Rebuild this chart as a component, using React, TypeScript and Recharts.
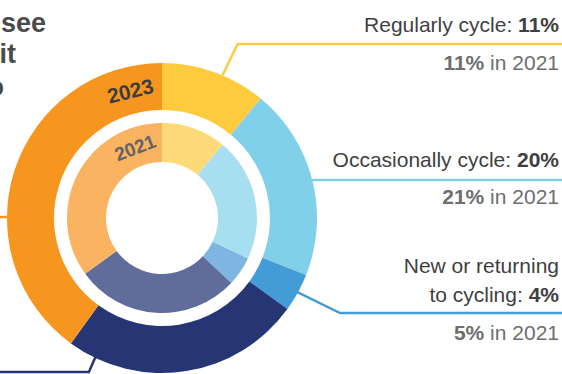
import React from 'react';
import { PieChart, Pie, Cell } from 'recharts';

const categories = ['Regularly cycle', 'Occasionally cycle', 'New or returning to cycling', 'Interested but not cycling', 'Not interested'];
const labelLines = [['Regularly cycle'], ['Occasionally cycle'], ['New or returning', 'to cycling']];
const values2023 = [11, 20, 4, 25, 40];
const values2021 = [11, 21, 5, 28, 35];
const colors2023 = ['#FFCB3E', '#80D0E9', '#449CD7', '#263674', '#F7961F'];
const colors2021 = ['#FFDA79', '#A7DEF0', '#7EB6E1', '#606D9B', '#F9B361'];
const yearLabels = ['2023', '2021'];
const titleLines = ['see', 'it', 'o'];

const data2023 = categories.map((name, i) => ({ name, value: values2023[i] }));
const data2021 = categories.map((name, i) => ({ name, value: values2021[i] }));

const FONT = '"Liberation Sans", Arial, Helvetica, sans-serif';
const RAD = Math.PI / 180;
const DARK = '#3f3f3f';
const GRAY = '#6e6e6e';
const FS = 21;

const polar = (cx: number, cy: number, r: number, angle: number) => ({
  x: cx + Math.cos(-angle * RAD) * r,
  y: cy + Math.sin(-angle * RAD) * r,
});

const renderOuterLabel = (props: any) => {
  const { cx, cy, outerRadius, midAngle, index } = props;
  const color = colors2023[index];
  const right = 559;
  if (index === 0) {
    const s = polar(cx, cy, outerRadius, 67);
    const ly = 44;
    return (
      <g key={`l${index}`}>
        <polyline points={`${s.x},${s.y} ${s.x + 15},${ly} 570,${ly}`} fill="none" stroke={color} strokeWidth={2.5} />
        <text x={right} y={32} textAnchor="end" fontFamily={FONT} fontSize={FS} fill={DARK}>
          {labelLines[0][0]}: <tspan fontWeight="bold">{values2023[0]}%</tspan>
        </text>
        <text x={right} y={70} textAnchor="end" fontFamily={FONT} fontSize={FS} fill={GRAY}>
          <tspan fontWeight="bold">{values2021[0]}%</tspan> in {yearLabels[1]}
        </text>
      </g>
    );
  }
  if (index === 1) {
    const s = polar(cx, cy, outerRadius - 2, midAngle);
    return (
      <g key={`l${index}`}>
        <line x1={s.x} y1={s.y} x2={570} y2={s.y} stroke={color} strokeWidth={2.5} />
        <text x={right} y={167} textAnchor="end" fontFamily={FONT} fontSize={FS} fill={DARK}>
          {labelLines[1][0]}: <tspan fontWeight="bold">{values2023[1]}%</tspan>
        </text>
        <text x={right} y={204} textAnchor="end" fontFamily={FONT} fontSize={FS} fill={GRAY}>
          <tspan fontWeight="bold">{values2021[1]}%</tspan> in {yearLabels[1]}
        </text>
      </g>
    );
  }
  if (index === 2) {
    const s = polar(cx, cy, outerRadius - 4, midAngle);
    const ly = 313;
    return (
      <g key={`l${index}`}>
        <polyline points={`${s.x},${s.y} 340,${ly} 570,${ly}`} fill="none" stroke={color} strokeWidth={2.5} />
        <text x={right} y={273} textAnchor="end" fontFamily={FONT} fontSize={FS} fill={DARK}>
          {labelLines[2][0]}
        </text>
        <text x={right} y={302} textAnchor="end" fontFamily={FONT} fontSize={FS} fill={DARK}>
          {labelLines[2][1]}: <tspan fontWeight="bold">{values2023[2]}%</tspan>
        </text>
        <text x={right} y={340} textAnchor="end" fontFamily={FONT} fontSize={FS} fill={GRAY}>
          <tspan fontWeight="bold">{values2021[2]}%</tspan> in {yearLabels[1]}
        </text>
      </g>
    );
  }
  if (index === 3) {
    const s = polar(cx, cy, outerRadius - 2, -115.6);
    const ly = 372;
    return (
      <g key={`l${index}`}>
        <polyline points={`${s.x},${s.y} ${s.x - 7},${ly} -10,${ly}`} fill="none" stroke={color} strokeWidth={2.5} />
      </g>
    );
  }
  const s = polar(cx, cy, outerRadius - 2, 180);
  return (
    <g key={`l${index}`}>
      <line x1={s.x} y1={s.y - 1} x2={-10} y2={s.y - 1} stroke={color} strokeWidth={2.5} />
    </g>
  );
};

const CX = 162;
const CY = 218;

const yearText = (label: string, r: number, angleFromTop: number, size: number, fill: string) => {
  const p = polar(CX, CY, r, 90 - angleFromTop);
  return (
    <text
      x={p.x}
      y={p.y}
      textAnchor="middle"
      dominantBaseline="central"
      fontFamily={FONT}
      fontWeight="bold"
      fontSize={size}
      fill={fill}
      transform={`rotate(${angleFromTop} ${p.x} ${p.y})`}
    >
      {label}
    </text>
  );
};

export default function App() {
  return (
    <div style={{ position: 'fixed', left: 0, top: 0, width: 562, height: 374, background: '#fff', overflow: 'hidden' }}>
      <PieChart width={562} height={374} margin={{ top: 0, right: 0, bottom: 0, left: 0 }}>
        <Pie
          data={data2023}
          dataKey="value"
          cx={CX}
          cy={CY}
          innerRadius={108}
          outerRadius={155}
          startAngle={90}
          endAngle={-270}
          stroke="none"
          isAnimationActive={false}
          label={renderOuterLabel}
          labelLine={false}
        >
          {data2023.map((d, i) => (
            <Cell key={d.name} fill={colors2023[i]} />
          ))}
        </Pie>
        <Pie
          data={data2021}
          dataKey="value"
          cx={CX}
          cy={CY}
          innerRadius={56}
          outerRadius={95}
          startAngle={90}
          endAngle={-270}
          stroke="none"
          isAnimationActive={false}
        >
          {data2021.map((d, i) => (
            <Cell key={d.name} fill={colors2021[i]} />
          ))}
        </Pie>
      </PieChart>
      <svg width={562} height={374} style={{ position: 'absolute', left: 0, top: 0, pointerEvents: 'none' }}>
        {yearText(yearLabels[0], 131, -14, 21, '#3d3d3d')}
        {yearText(yearLabels[1], 75, -21, 19, '#636363')}
        <text x={46} y={32} textAnchor="end" fontFamily={FONT} fontWeight="bold" fontSize={27} fill="#4a4a4a">{titleLines[0]}</text>
        <text x={16} y={63} textAnchor="end" fontFamily={FONT} fontWeight="bold" fontSize={27} fill="#4a4a4a">{titleLines[1]}</text>
        <text x={4} y={96} textAnchor="end" fontFamily={FONT} fontWeight="bold" fontSize={27} fill="#4a4a4a">{titleLines[2]}</text>
      </svg>
    </div>
  );
}
